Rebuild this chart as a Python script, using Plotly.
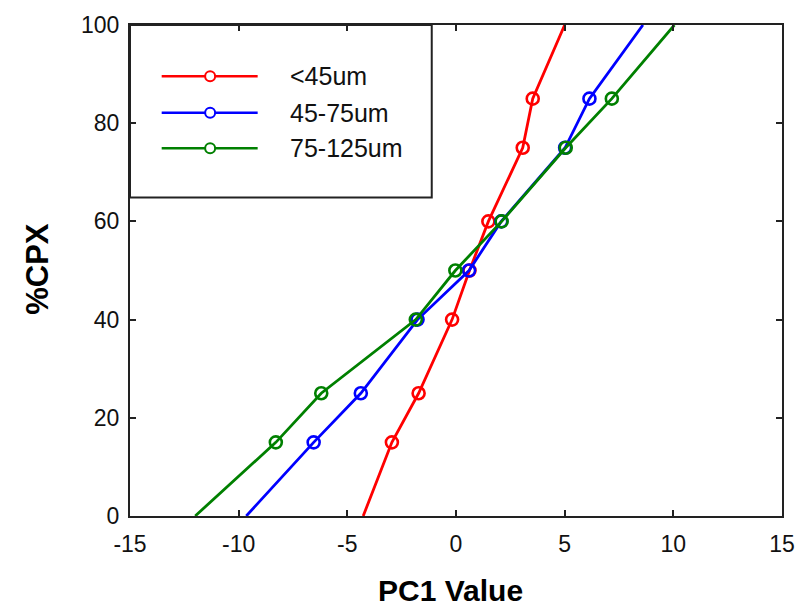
import plotly.graph_objects as go

# ---- data ----
series_names = ["<45um", "45-75um", "75-125um"]
series_colors = ["#ff0000", "#0000ff", "#008000"]

y_levels = [0, 15, 25, 40, 50, 60, 75, 85, 100]

x_lt45 = [-4.27, -2.95, -1.72, -0.18, 0.62, 1.49, 3.07, 3.53, 5.0]
x_45_75 = [-9.65, -6.55, -4.38, -1.77, 0.6, 2.08, 5.02, 6.14, 8.6]
x_75_125 = [-12.0, -8.29, -6.2, -1.85, -0.03, 2.1, 5.05, 7.17, 10.05]

x_series = [x_lt45, x_45_75, x_75_125]

x_ticks = [-15, -10, -5, 0, 5, 10, 15]
y_ticks = [0, 20, 40, 60, 80, 100]

FONT = "Liberation Sans, Arial, sans-serif"

fig = go.Figure()

for name, color, xs in zip(series_names, series_colors, x_series):
    # fitted line spans the full range (end points carry no marker)
    fig.add_trace(go.Scatter(
        x=xs, y=y_levels, mode="lines", name=name,
        line=dict(color=color, width=2.8), showlegend=False, hoverinfo="skip"))
    fig.add_trace(go.Scatter(
        x=xs[1:-1], y=y_levels[1:-1], mode="markers", name=name,
        marker=dict(symbol="circle-open", size=12, color=color,
                    line=dict(color=color, width=2.6)),
        showlegend=False))

# ---- custom legend box (matches the large boxed legend) ----
shapes = [dict(type="rect", xref="paper", yref="paper",
               x0=0.0, x1=0.4628, y0=0.6486, y1=1.0,
               line=dict(color="#222222", width=2), fillcolor="white",
               layer="below")]
annotations = []
row_y = [0.8956, 0.8213, 0.749]
for name, color, ry in zip(series_names, series_colors, row_y):
    shapes.append(dict(type="line", xref="paper", yref="paper",
                       x0=0.0486, x1=0.1958, y0=ry, y1=ry,
                       line=dict(color=color, width=2.4)))
    shapes.append(dict(type="circle", xref="paper", yref="paper",
                       xsizemode="pixel", ysizemode="pixel",
                       xanchor=0.1229, yanchor=ry,
                       x0=-5, x1=5, y0=-5, y1=5,
                       line=dict(color=color, width=2), fillcolor="white"))
    annotations.append(dict(xref="paper", yref="paper", x=0.2428, y=ry,
                            text=name, showarrow=False, xanchor="left",
                            yanchor="middle",
                            font=dict(family=FONT, size=25, color="#111111")))

# axis titles
annotations.append(dict(xref="paper", yref="paper", x=0.492, y=-0.151,
                        text="<b>PC1 Value</b>", showarrow=False,
                        xanchor="center", yanchor="middle",
                        font=dict(family=FONT, size=30, color="black")))
annotations.append(dict(xref="paper", yref="paper", x=-0.143, y=0.503,
                        text="<b>%CPX</b>", showarrow=False, textangle=-90,
                        xanchor="center", yanchor="middle",
                        font=dict(family=FONT, size=31, color="black")))

axis_common = dict(showgrid=False, zeroline=False, showline=True,
                   linecolor="#222222", linewidth=2, mirror="ticks",
                   ticks="inside", ticklen=6, tickwidth=1.5, tickcolor="#222222",
                   ticklabeloverflow="allow",
                   tickfont=dict(family=FONT, size=23, color="#111111"))

fig.update_layout(
    width=807, height=608,
    margin=dict(l=130, r=18, t=18, b=92),
    paper_bgcolor="white", plot_bgcolor="white",
    xaxis=dict(range=[-15, 15], tickvals=x_ticks,
               ticktext=[str(v) for v in x_ticks], ticklabelstandoff=6,
               **axis_common),
    yaxis=dict(range=[0, 100], tickvals=y_ticks,
               ticktext=[str(v) for v in y_ticks], ticklabelstandoff=4,
               **axis_common),
    shapes=shapes, annotations=annotations, showlegend=False,
)

fig.write_html(
    "out.html",
    config={"displayModeBar": False},
    post_script="document.body.style.margin='0';document.body.style.overflow='hidden';",
)
